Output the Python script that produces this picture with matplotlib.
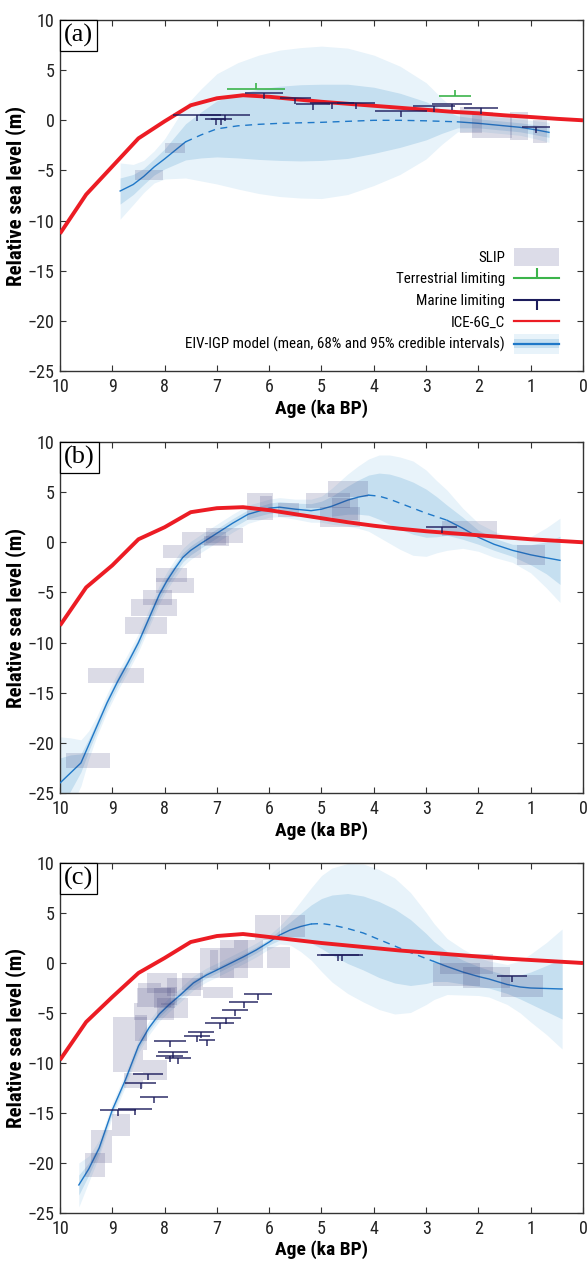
import os
import numpy as np
import matplotlib
matplotlib.use('Agg')
import matplotlib.pyplot as plt
from matplotlib import font_manager
from matplotlib.font_manager import FontProperties
from matplotlib.patches import Rectangle, Patch
from matplotlib.lines import Line2D
from matplotlib.legend_handler import HandlerBase


def find_narrow_files():
    # the original figure uses a condensed sans; look for a narrow family on disk
    groups = {}
    for f in font_manager.fontManager.ttflist:
        base = os.path.basename(f.fname)
        s = (f.name + ' ' + base).lower()
        if '[' in base or f.style != 'normal':
            continue
        if 'narrow' in s or 'condensed' in s or f.stretch in ('condensed', 'semi-condensed'):
            if 'semicondensed' in s.replace('-', '').replace(' ', ''):
                continue
            w = f.weight if isinstance(f.weight, int) else 400
            groups.setdefault(f.name, []).append((w, f.fname))
    order = ['liberation sans narrow', 'roboto condensed', 'open sans condensed',
             'noto sans', 'dejavu sans']
    names = sorted(groups, key=lambda n: next((i for i, k in enumerate(order)
                                               if n.lower().startswith(k)), 99))
    for n in names:
        reg = [p for w, p in groups[n] if 350 <= w <= 450]
        bold = [p for w, p in groups[n] if 600 <= w <= 750]
        if reg and bold:
            return reg[0], bold[0]
    return None, None


REG_FILE, BOLD_FILE = find_narrow_files()


def font(size, bold=False):
    path = BOLD_FILE if bold else REG_FILE
    if path:
        return FontProperties(fname=path, size=size)
    return FontProperties(family='DejaVu Sans', size=size * 0.85,
                          weight='bold' if bold else 'normal')


# colours
RED = '#ec1c24'
BLUE = '#1f78c8'
C95 = '#e8f3fa'
C68 = '#c5dff0'
SLIPC = '#3c3c78'
NAVY = '#1c1c5c'
GREEN = '#3cb44b'

# ICE-6G_C prediction (same age steps for all panels)
ice_age = [10, 9.5, 9, 8.5, 8, 7.5, 7, 6.5, 6, 5.5, 5, 4.5, 4, 3.5, 3, 2.5, 2, 1.5, 1, 0.5, 0]
ice_a = [-11.3, -7.4, -4.6, -1.8, -0.1, 1.5, 2.2, 2.5, 2.35, 2.1, 1.85, 1.65, 1.45, 1.25,
         1.05, 0.85, 0.7, 0.5, 0.33, 0.15, 0.0]
ice_b = [-8.3, -4.5, -2.3, 0.3, 1.5, 3.0, 3.4, 3.5, 3.2, 2.8, 2.4, 2.0, 1.65, 1.35,
         1.1, 0.9, 0.7, 0.5, 0.3, 0.15, 0.0]
ice_c = [-9.7, -5.9, -3.4, -1.0, 0.5, 2.1, 2.7, 2.9, 2.6, 2.3, 2.0, 1.75, 1.5, 1.25,
         1.05, 0.85, 0.65, 0.45, 0.3, 0.15, 0.0]

# ---- panel (a) EIV-IGP model ----
age_a = [8.85, 8.6, 8.4, 8.2, 8.0, 7.8, 7.6, 7.3, 7.0, 6.6, 6.2, 5.8, 5.4, 5.0, 4.5,
         4.0, 3.5, 3.0, 2.7, 2.4, 2.0, 1.6, 1.2, 0.9, 0.65]
mean_a = [-7.05, -6.4, -5.6, -4.65, -3.85, -3.0, -2.15, -1.45, -0.85, -0.55, -0.4, -0.3,
          -0.25, -0.2, -0.1, 0.0, 0.0, -0.05, -0.1, -0.15, -0.3, -0.5, -0.7, -0.95, -1.2]
h68_a = [1.3, 1.0, 0.8, 0.8, 1.0, 1.4, 1.8, 2.3, 2.8, 3.2, 3.5, 3.7, 3.8, 3.8, 3.7,
         3.3, 2.7, 1.9, 1.2, 0.6, 0.45, 0.45, 0.45, 0.5, 0.5]
h95_a = [2.8, 2.0, 1.6, 1.6, 2.0, 2.8, 3.6, 4.6, 5.5, 6.3, 6.9, 7.3, 7.5, 7.6, 7.3,
         6.5, 5.4, 3.8, 2.3, 1.0, 0.8, 0.8, 0.8, 0.9, 1.0]
dash_a = (7.6, 2.4)

slip_age_a = [8.3, 7.8, 2.14, 1.92, 1.54, 1.23, 0.82]
slip_aerr_a = [0.27, 0.19, 0.21, 0.2, 0.18, 0.17, 0.14]
slip_rsl_a = [-5.5, -2.8, 0.0, -0.5, -0.65, -0.6, -1.15]
slip_rerr_a = [0.5, 0.5, 1.3, 1.3, 1.15, 1.4, 1.15]

terr_age_a = [6.25, 2.45]
terr_err_a = [0.55, 0.3]
terr_rsl_a = [3.1, 2.4]

mar_age_a = [7.38, 6.85, 7.02, 6.92, 6.1, 5.5, 5.16, 4.8, 4.34, 3.48, 2.85, 2.5, 1.95, 0.9]
mar_err_a = [0.46, 0.48, 0.2, 0.2, 0.37, 0.29, 0.33, 0.42, 0.36, 0.5, 0.4, 0.38, 0.33, 0.27]
mar_rsl_a = [0.5, 0.5, 0.1, 0.1, 2.7, 2.2, 1.6, 1.7, 1.7, 0.9, 1.4, 1.6, 1.2, -0.65]

# ---- panel (b) ----
age_b = [10.0, 9.8, 9.6, 9.45, 9.3, 9.1, 8.9, 8.7, 8.5, 8.3, 8.1, 7.95, 7.8, 7.65, 7.5,
         7.3, 7.0, 6.7, 6.4, 6.0, 5.8, 5.5, 5.2, 5.0, 4.8, 4.5, 4.3, 4.1, 3.9, 3.7, 3.5,
         3.25, 3.0, 2.8, 2.6, 2.3, 2.0, 1.7, 1.35, 1.0, 0.7, 0.44]
mean_b = [-24.0, -23.0, -22.0, -20.2, -18.4, -16.0, -13.9, -12.0, -10.0, -7.6, -5.2, -3.8,
          -2.6, -1.5, -0.8, -0.1, 0.9, 1.9, 2.8, 3.4, 3.5, 3.3, 3.15, 3.3, 3.6, 4.2, 4.5,
          4.7, 4.6, 4.3, 3.9, 3.4, 2.9, 2.55, 2.2, 1.4, 0.5, -0.2, -0.8, -1.25, -1.55, -1.8]
h68_b = [2.5, 1.8, 0.9, 0.6, 0.5, 0.45, 0.45, 0.45, 0.45, 0.45, 0.45, 0.45, 0.45, 0.45,
         0.45, 0.45, 0.45, 0.45, 0.45, 0.5, 0.55, 0.6, 0.7, 0.8, 1.0, 1.4, 1.7, 2.0, 2.3,
         2.5, 2.6, 2.6, 2.4, 2.0, 1.5, 1.1, 0.7, 0.6, 0.6, 1.0, 1.6, 2.4]
h95_b = [4.6, 3.5, 2.3, 1.4, 1.0, 0.9, 0.9, 0.9, 0.9, 0.9, 0.9, 0.9, 0.9, 0.9, 0.9,
         0.9, 0.9, 0.9, 0.9, 0.9, 0.95, 1.0, 1.15, 1.3, 1.8, 2.6, 3.1, 3.6, 4.1, 4.4, 4.6,
         4.7, 4.3, 3.6, 3.0, 2.0, 1.4, 1.3, 1.2, 1.8, 3.0, 4.2]
dash_b = (4.1, 2.6)

slip_age_b = [9.47, 8.93, 8.36, 8.2, 8.13, 7.87, 7.8, 7.67, 7.25, 7.0, 6.85, 6.18, 6.06,
              5.63, 4.87, 4.65, 4.49, 4.55, 2.17, 1.0]
slip_aerr_b = [0.42, 0.54, 0.4, 0.44, 0.28, 0.3, 0.37, 0.36, 0.42, 0.24, 0.35, 0.25, 0.12,
               0.2, 0.42, 0.38, 0.38, 0.25, 0.53, 0.27]
slip_rsl_b = [-21.75, -13.25, -8.25, -6.5, -5.5, -3.3, -4.3, -0.95, 0.35, 0.1, 0.65, 3.55,
              3.9, 3.2, 4.2, 2.5, 5.3, 3.3, 1.35, -1.3]
slip_rerr_b = [0.75, 0.75, 0.85, 0.8, 0.75, 0.7, 0.75, 0.65, 0.65, 0.5, 0.75, 1.35, 0.75,
               0.7, 0.75, 1.0, 0.8, 1.1, 0.75, 1.0]

terr_age_b = []
terr_err_b = []
terr_rsl_b = []

mar_age_b = [2.7]
mar_err_b = [0.3]
mar_rsl_b = [1.5]

# ---- panel (c) ----
age_c = [9.64, 9.45, 9.25, 9.0, 8.75, 8.5, 8.3, 8.1, 7.9, 7.7, 7.45, 7.2, 7.0, 6.75, 6.5,
         6.25, 6.0, 5.8, 5.6, 5.4, 5.2, 5.0, 4.8, 4.5, 4.2, 3.9, 3.6, 3.3, 3.0, 2.85, 2.6,
         2.3, 2.0, 1.8, 1.45, 1.2, 1.0, 0.7, 0.4]
mean_c = [-22.2, -20.6, -18.5, -14.7, -11.7, -8.3, -6.5, -5.1, -4.1, -3.2, -2.0, -1.2,
          -0.7, -0.05, 0.6, 1.3, 2.1, 2.8, 3.3, 3.65, 3.9, 3.95, 3.8, 3.45, 3.0, 2.35, 1.7,
          1.05, 0.45, 0.15, -0.35, -0.9, -1.35, -1.6, -2.15, -2.4, -2.5, -2.55, -2.6]
h68_c = [1.0, 0.6, 0.4, 0.3, 0.3, 0.3, 0.3, 0.3, 0.3, 0.3, 0.3, 0.3, 0.3, 0.3, 0.3, 0.3,
         0.3, 0.5, 0.8, 1.3, 1.9, 2.5, 3.0, 3.5, 3.7, 3.8, 3.7, 3.3, 2.5, 2.0, 1.5, 1.2,
         1.0, 0.9, 0.9, 1.2, 1.6, 2.3, 3.0]
h95_c = [2.2, 1.3, 0.8, 0.7, 0.7, 0.7, 0.7, 0.7, 0.7, 0.7, 0.7, 0.7, 0.7, 0.7, 0.7, 0.7,
         0.7, 0.9, 1.5, 2.5, 3.6, 4.8, 5.7, 6.5, 6.9, 7.0, 6.8, 6.0, 4.6, 3.8, 2.8, 2.3,
         1.9, 1.8, 2.0, 2.6, 3.4, 4.6, 6.0]
dash_c = (5.2, 2.85)

slip_age_c = [9.33, 9.2, 8.83, 8.6, 8.18, 8.7, 8.66, 8.45, 8.2, 7.85, 8.2, 8.05, 8.0,
              7.63, 7.47, 7.05, 7.0, 6.67, 6.4, 6.03, 5.82, 5.55, 2.23, 2.42, 1.85, 1.17,
              7.92, 8.28, 6.98]
slip_aerr_c = [0.19, 0.2, 0.17, 0.18, 0.23, 0.28, 0.32, 0.12, 0.38, 0.3, 0.32, 0.29, 0.2,
               0.32, 0.2, 0.08, 0.32, 0.27, 0.28, 0.24, 0.22, 0.23, 0.5, 0.45, 0.45, 0.4,
               0.15, 0.22, 0.28]
slip_rsl_c = [-20.2, -18.35, -16.2, -11.75, -10.7, -9.8, -7.05, -6.5, -4.85, -4.5, -3.45,
              -2.0, -3.5, -2.4, -1.85, 0.3, 0.0, 0.4, 0.9, 3.55, 0.55, 3.7, -0.1, -1.15,
              -1.45, -2.3, -3.3, -3.0, -2.95]
slip_rerr_c = [1.2, 1.65, 1.1, 0.75, 1.0, 1.1, 1.65, 1.3, 0.85, 1.0, 0.95, 1.0, 1.0,
               0.9, 0.85, 1.0, 1.5, 1.9, 1.4, 1.25, 1.05, 1.1, 1.0, 1.15, 1.05, 1.1,
               0.9, 1.0, 0.55]

terr_age_c = []
terr_err_c = []
terr_rsl_c = []

mar_age_c = [6.21, 6.49, 6.65, 6.83, 6.95, 7.3, 7.38, 7.19, 7.9, 7.84, 7.9, 7.74, 8.32,
             8.46, 8.2, 8.89, 8.57, 4.68, 4.61, 1.36]
mar_err_c = [0.27, 0.27, 0.25, 0.29, 0.27, 0.25, 0.25, 0.15, 0.3, 0.29, 0.26, 0.25, 0.28,
             0.3, 0.27, 0.35, 0.33, 0.4, 0.4, 0.29]
mar_rsl_c = [-3.1, -3.9, -4.7, -5.5, -6.0, -6.9, -7.3, -7.7, -7.8, -8.9, -9.3, -9.5, -11.1,
             -12.0, -13.4, -14.7, -14.6, 0.8, 0.8, -1.3]


class BandHandler(HandlerBase):
    # legend key for the model: light band, darker band and mean line
    def create_artists(self, legend, orig_handle, xdescent, ydescent, width, height,
                       fontsize, trans):
        x0 = -xdescent
        y0 = -ydescent
        outer = Rectangle((x0, y0 - 0.45 * height), width, 1.9 * height, fc=C95, ec='none',
                          transform=trans)
        inner = Rectangle((x0, y0 + 0.05 * height), width, 0.9 * height, fc=C68, ec='none',
                          transform=trans)
        line = Line2D([x0, x0 + width], [y0 + 0.5 * height] * 2, color=BLUE, lw=1.6,
                      transform=trans)
        return [outer, inner, line]


class SlipHandler(HandlerBase):
    def create_artists(self, legend, orig_handle, xdescent, ydescent, width, height,
                       fontsize, trans):
        r = Rectangle((-xdescent, -ydescent - 0.35 * height), width, 1.7 * height,
                      fc='#dcdce8', ec='none', transform=trans)
        return [r]


def draw_panel(ax, label, ice, age, mean, h68, h95, dash, slip, terr, mar, legend=False):
    age = np.array(age)
    mean = np.array(mean)
    h68 = np.array(h68)
    h95 = np.array(h95)

    ax.fill_between(age, mean - h95, mean + h95, color=C95, lw=0, zorder=1)
    ax.fill_between(age, mean - h68, mean + h68, color=C68, lw=0, zorder=2)

    first = age >= dash[0]
    mid = (age <= dash[0]) & (age >= dash[1])
    last = age <= dash[1]
    ax.plot(age[first], mean[first], color=BLUE, lw=1.0, zorder=3)
    ax.plot(age[mid], mean[mid], color=BLUE, lw=1.0, ls=(0, (5, 4)), zorder=3)
    ax.plot(age[last], mean[last], color=BLUE, lw=1.0, zorder=3)

    s_age, s_aerr, s_rsl, s_rerr = [np.array(v) for v in slip]
    ax.bar(s_age, 2 * s_rerr, width=2 * s_aerr, bottom=s_rsl - s_rerr, color=SLIPC,
           alpha=0.18, lw=0, zorder=4)

    ax.plot(ice_age, ice, color=RED, lw=2.8, zorder=5, solid_capstyle='butt')

    t_age, t_err, t_rsl = terr
    if len(t_age):
        ax.errorbar(t_age, t_rsl, xerr=t_err, fmt='none', ecolor=GREEN, elinewidth=1.2,
                    capsize=0, zorder=6)
        ax.plot(t_age, t_rsl, ls='none', marker=2, ms=4.5, mew=1.2, color=GREEN, zorder=6)
    m_age, m_err, m_rsl = mar
    if len(m_age):
        ax.errorbar(m_age, m_rsl, xerr=m_err, fmt='none', ecolor=NAVY, elinewidth=1.2,
                    capsize=0, alpha=0.85, zorder=6)
        ax.plot(m_age, m_rsl, ls='none', marker=3, ms=4.5, mew=1.2, color=NAVY,
                alpha=0.85, zorder=6)

    ax.set_xlim(10, 0)
    ax.set_ylim(-25, 10)
    ax.set_xticks(range(10, -1, -1))
    ax.set_yticks(range(-25, 11, 5))
    ax.tick_params(direction='in', top=True, right=True, length=4, width=0.8,
                   colors='#333333', labelcolor='#222222')
    ax.tick_params(axis='x', pad=5)
    ax.tick_params(axis='y', pad=4)
    for t in ax.get_xticklabels() + ax.get_yticklabels():
        t.set_fontproperties(font(13))
    for sp in ax.spines.values():
        sp.set_linewidth(1.0)
        sp.set_color('#333333')
    ax.set_xlabel('Age (ka BP)', fontproperties=font(14, True), labelpad=2)
    ax.set_ylabel('Relative sea level (m)', fontproperties=font(15, True), labelpad=1)

    ax.annotate(label, xy=(0, 1), xycoords='axes fraction', xytext=(3.0, -3.0),
                textcoords='offset points', ha='left', va='top',
                family='Liberation Serif', fontsize=19, zorder=10,
                bbox=dict(boxstyle='square,pad=0.15', fc='white', ec='black', lw=0.9))

    if legend:
        handles = [Patch(), Line2D([], [], color=GREEN, lw=1.5, marker=2, ms=7, mew=1.5),
                   Line2D([], [], color=NAVY, lw=1.5, marker=3, ms=7, mew=1.5),
                   Line2D([], [], color=RED, lw=1.6),
                   Patch()]
        labels = ['SLIP', 'Terrestrial limiting', 'Marine limiting', 'ICE-6G_C',
                  'EIV-IGP model (mean, 68% and 95% credible intervals)']
        ax.legend(handles, labels, loc='lower right', bbox_to_anchor=(0.98, 0.015),
                  frameon=False, markerfirst=False, prop=font(10.8), handlelength=3.0,
                  handletextpad=0.6, labelspacing=0.5, numpoints=1,
                  handler_map={handles[0]: SlipHandler(), handles[4]: BandHandler()})


fig = plt.figure(figsize=(5.87, 12.61), dpi=100)
ax_a = fig.add_axes([0.1022, 0.7058, 0.891, 0.2783])
ax_b = fig.add_axes([0.1022, 0.3711, 0.891, 0.2784])
ax_c = fig.add_axes([0.1022, 0.0381, 0.891, 0.2775])

draw_panel(ax_a, '(a)', ice_a, age_a, mean_a, h68_a, h95_a, dash_a,
           (slip_age_a, slip_aerr_a, slip_rsl_a, slip_rerr_a),
           (terr_age_a, terr_err_a, terr_rsl_a), (mar_age_a, mar_err_a, mar_rsl_a),
           legend=True)
draw_panel(ax_b, '(b)', ice_b, age_b, mean_b, h68_b, h95_b, dash_b,
           (slip_age_b, slip_aerr_b, slip_rsl_b, slip_rerr_b),
           (terr_age_b, terr_err_b, terr_rsl_b), (mar_age_b, mar_err_b, mar_rsl_b))
draw_panel(ax_c, '(c)', ice_c, age_c, mean_c, h68_c, h95_c, dash_c,
           (slip_age_c, slip_aerr_c, slip_rsl_c, slip_rerr_c),
           (terr_age_c, terr_err_c, terr_rsl_c), (mar_age_c, mar_err_c, mar_rsl_c))

fig.savefig('out.png', dpi=100)
